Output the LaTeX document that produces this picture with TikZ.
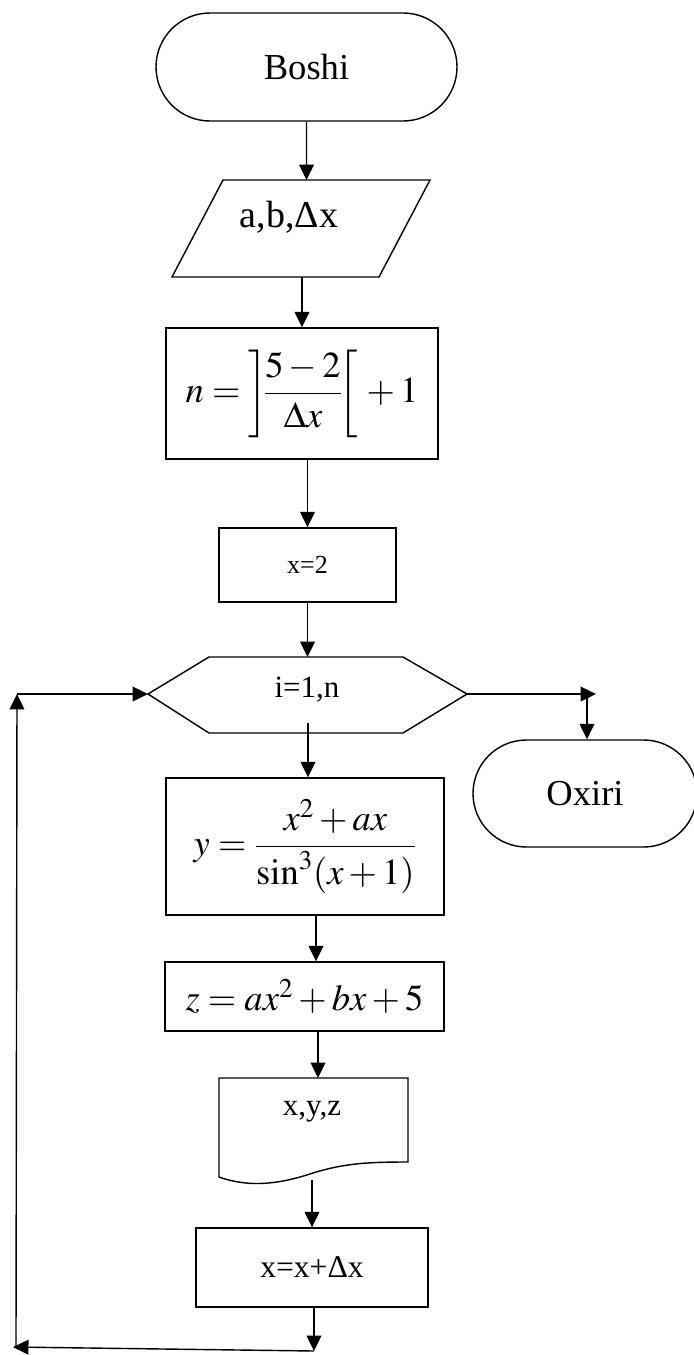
\documentclass[tikz,border=0pt]{standalone}
\usepackage{amsmath}
\usepackage{mathptmx}
\usepackage[no-math]{fontspec}
\setmainfont{Liberation Serif}
\usetikzlibrary{arrows.meta,shapes.misc}

\newlength\pxu
\setlength\pxu{0.025cm}
\newcommand\fsz[1]{\fontsize{#1}{#1}\selectfont}

\tikzset{
  line/.style={line width=1pt},
  arr/.style={line, -{Triangle[length=11pt,width=10.5pt]}},
  term/.style={draw, line, rounded rectangle, inner sep=0pt, font=\fsz{26pt}},
  block/.style={draw, line, rectangle, inner sep=0pt},
}

\begin{document}
\begin{tikzpicture}[x=0.025cm, y=-0.025cm]
  \useasboundingbox (0,0) rectangle (694,1355);

  % terminals
  \node[term, minimum width=301\pxu, minimum height=108\pxu] (start) at (306.5,67) {Boshi};
  \node[term, minimum width=224\pxu, minimum height=107\pxu] (stop) at (585,793.5) {Oxiri};

  % input
  \coordinate (inTL) at (223,180); \coordinate (inTR) at (430,180);
  \coordinate (inBR) at (379,277); \coordinate (inBL) at (172,277);
  \draw[line] (inTL) -- (inTR) -- (inBR) -- (inBL) -- cycle;
  \node[font=\fsz{27pt}] (input) at (289,217) {a,b,Δx};

  % blocks
  \node[block, minimum width=272\pxu, minimum height=131\pxu, font=\fsz{26pt}] (count) at (302,393.5)
    {$n=\left]\!\dfrac{5-2}{\Delta x}\!\right[\,+1$};
  \node[block, minimum width=177\pxu, minimum height=74\pxu, font=\fsz{18.5pt}] (init) at (307.5,565) {x=2};

  % loop
  \coordinate (hexW) at (148,694); \coordinate (hexE) at (467,694);
  \coordinate (hexN) at (307.5,657);
  \draw[line] (hexW) -- (209,657) -- (403,657) -- (hexE) -- (403,733) -- (209,733) -- cycle;
  \node[font=\fsz{22pt}] (loop) at (307,690) {i=1,n};

  \node[block, minimum width=278\pxu, minimum height=137\pxu, font=\fsz{26pt}] (fy) at (305,846.5)
    {$y=\dfrac{x^2+ax}{\sin^3(x+1)}$};
  \node[block, minimum width=279\pxu, minimum height=69\pxu, font=\fsz{26pt}] (fz) at (304.5,996.5)
    {$z=ax^2+bx+5$};

  % output
  \coordinate (docN) at (318,1078); \coordinate (docS) at (312,1180);
  \draw[line] (219,1078) -- (408,1078) -- (408,1162)
    .. controls (370,1162) and (345,1163) .. (313,1173)
    .. controls (280,1184) and (250,1188) .. (219,1177) -- cycle;
  \node[font=\fsz{22pt}] (out) at (312,1112) {x,y,z};

  \node[block, minimum width=232\pxu, minimum height=79\pxu, font=\fsz{22.5pt}] (incr) at (312,1267.5) {x=x+Δx};

  % connectors
  \coordinate (body) at (308,723);
  \coordinate (exitE) at (596,694); \coordinate (turn) at (587,694);
  \coordinate (back) at (314,1351); \coordinate (backW) at (13,1347);
  \coordinate (cornerSW) at (16,1347); \coordinate (cornerNW) at (17,694);

  \draw[arr] (start) -- (start |- inTL);
  \draw[arr] (count.north |- inBL) -- (count.north);
  \draw[arr] (count.south -| init) -- (init.north);
  \draw[arr] (init) -- (hexN);
  \draw[arr] (body) -- (body |- fy.north);
  \draw[arr] (hexE) -- (exitE);
  \draw[arr] (turn) -- (turn |- stop.north);
  \draw[arr] ([xshift=11\pxu]fy.south) -- ([xshift=11\pxu]fy.south |- fz.north);
  \draw[arr] (fz.south -| docN) -- (docN);
  \draw[arr] (docS) -- (incr.north);
  \draw[arr] (incr.south -| back) -- (back);
  \draw[arr] (back) -- (backW);
  \draw[arr] (cornerSW) -- (cornerNW);
  \draw[arr] (cornerNW) -- (hexW);
\end{tikzpicture}
\end{document}
